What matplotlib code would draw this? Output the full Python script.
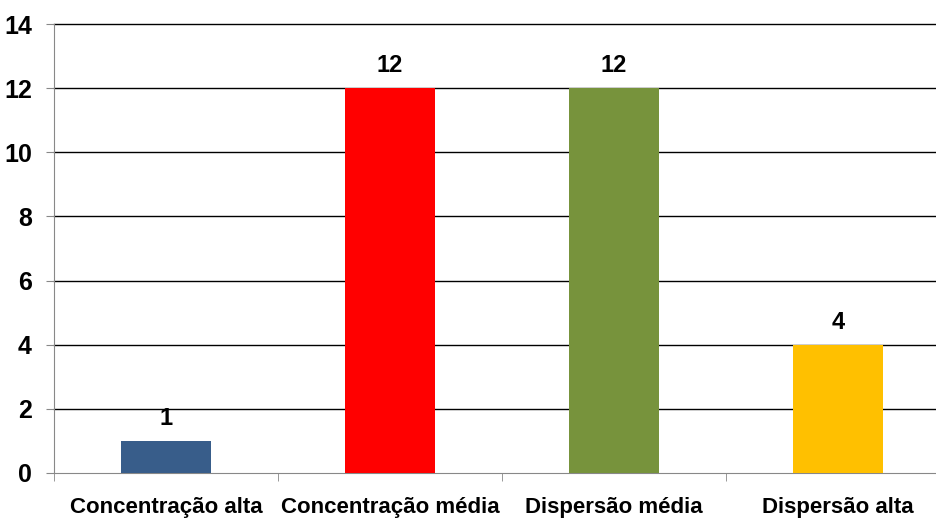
import matplotlib
matplotlib.use("Agg")
import matplotlib.pyplot as plt
import numpy as np

categories = ["Concentração alta", "Concentração média", "Dispersão média", "Dispersão alta"]
values = [1, 12, 12, 4]
colors = ["#385D8A", "#FF0000", "#77933C", "#FFC000"]
yticks = [0, 2, 4, 6, 8, 10, 12, 14]

plt.rcParams['font.family'] = ['Liberation Sans', 'DejaVu Sans']
plt.rcParams['font.weight'] = 'bold'

W, H = 937, 518
fig = plt.figure(figsize=(W/100, H/100), dpi=100)
left, right, top, bottom = 54, 950, 24, 473
ax = fig.add_axes([left/W, 1 - bottom/H, (right-left)/W, (bottom-top)/H])

x = np.arange(len(categories))
ax.bar(x, values, width=0.4, color=colors, zorder=3)
for xi, v in zip(x, values):
    ax.annotate(str(v), (xi, v), xytext=(0, 8), textcoords='offset points',
                ha='center', va='bottom', fontsize=17, fontweight='bold')

ax.set_xlim(-0.5, len(categories) - 0.5)
ax.set_ylim(0, 14)
ax.set_yticks(yticks)
ax.set_yticklabels([str(t) for t in yticks], fontsize=18, fontweight='bold')
for t in yticks[1:]:
    ax.axhline(t, color='#000000', lw=1.0, zorder=1, clip_on=False)

ax.set_xticks(x)
ax.set_xticklabels(categories, fontsize=16, fontweight='bold')
ax.tick_params(axis='x', length=0, pad=17)
ax.set_xticks(np.arange(len(categories)+1) - 0.5, minor=True)
ax.tick_params(axis='x', which='minor', length=6, color='#888888', direction='out')
ax.tick_params(axis='y', length=6, color='#888888', direction='out', pad=10)

for s in ['top', 'right']:
    ax.spines[s].set_visible(False)
ax.spines['left'].set_color('#888888')
ax.spines['bottom'].set_color('#888888')

fig.savefig("out.png", dpi=100)
